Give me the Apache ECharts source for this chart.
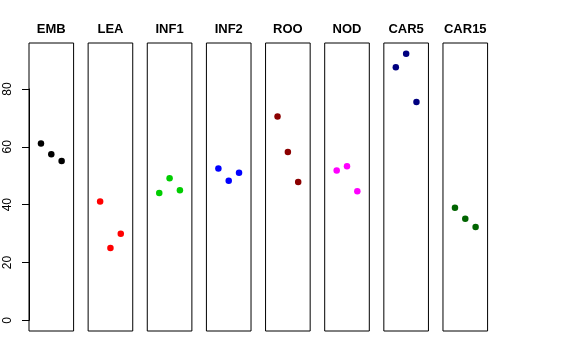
<!DOCTYPE html>
<html>
<head>
<meta charset="utf-8">
<script src="https://cdn.jsdelivr.net/npm/echarts@6/dist/echarts.min.js"></script>
<style>html,body{margin:0;padding:0;background:#fff}#c{width:576px;height:360px}</style>
</head>
<body>
<div id="c"></div>
<script>
var categories = ["EMB", "LEA", "INF1", "INF2", "ROO", "NOD", "CAR5", "CAR15"];
var colors = ["#000000", "#ff0000", "#00cd00", "#0000ff", "#8b0000", "#ff00ff", "#000080", "#006400"];
var xPositions = [1, 2, 3];
var values = [
  [61.1, 57.4, 55.1],
  [41.1, 25.0, 29.9],
  [44.0, 49.1, 45.0],
  [52.5, 48.3, 51.0],
  [70.5, 58.2, 47.8],
  [51.8, 53.3, 44.6],
  [87.5, 92.2, 75.5],
  [38.9, 35.1, 32.3]
];
var yTicks = [0, 20, 40, 60, 80];

var yLimLo = 0, yLimHi = 92.2;
var ext = (yLimHi - yLimLo) * 0.04;
var yMin = yLimLo - ext, yMax = yLimHi + ext;
var xMin = 0 - 0.16, xMax = 4 + 0.16;

var plotTop = 43, plotHeight = 288, left0 = 29, step = 59.14, plotWidth = 44.6;
var font = "'Liberation Sans', Arial, Helvetica, sans-serif";

var grids = [], xAxes = [], yAxes = [], series = [], graphics = [];
categories.forEach(function (cat, i) {
  var left = left0 + i * step;
  grids.push({left: left, top: plotTop, width: plotWidth, height: plotHeight, show: true,
    borderColor: '#000', borderWidth: 1, backgroundColor: 'transparent', containLabel: false});
  xAxes.push({type: 'value', gridIndex: i, min: xMin, max: xMax, show: false});
  yAxes.push({type: 'value', gridIndex: i, min: yMin, max: yMax, show: false});
  series.push({
    type: 'scatter', xAxisIndex: i, yAxisIndex: i, symbol: 'circle', symbolSize: 6.5,
    itemStyle: {color: colors[i], opacity: 1}, silent: true,
    data: values[i].map(function (v, j) { return [xPositions[j], v]; })
  });
  graphics.push({type: 'text', x: left + plotWidth / 2, y: 29.5,
    style: {text: cat, font: 'bold 13px ' + font, fill: '#000', textAlign: 'center', textVerticalAlign: 'middle'}});
});

var pxPerUnit = plotHeight / (yMax - yMin);
var axTop = plotTop + (yMax - yTicks[yTicks.length - 1]) * pxPerUnit;
var axBottom = plotTop + (yMax - yTicks[0]) * pxPerUnit;
var ai = categories.length;
grids.push({left: left0, top: axTop, width: plotWidth, height: axBottom - axTop, show: false});
xAxes.push({type: 'value', gridIndex: ai, min: 0, max: 1, show: false});
yAxes.push({type: 'value', gridIndex: ai, min: yTicks[0], max: yTicks[yTicks.length - 1], interval: 20,
  axisLine: {show: true, lineStyle: {color: '#000', width: 1}},
  axisTick: {show: true, inside: false, length: 7, lineStyle: {color: '#000', width: 1}},
  splitLine: {show: false},
  axisLabel: {show: true, rotate: 90, margin: 15, color: '#000', fontSize: 12, fontFamily: font}
});

var chart = echarts.init(document.getElementById('c'), null, {renderer: 'canvas'});
chart.setOption({
  animation: false,
  backgroundColor: '#fff',
  grid: grids, xAxis: xAxes, yAxis: yAxes, series: series,
  graphic: graphics
});
</script>
</body>
</html>
